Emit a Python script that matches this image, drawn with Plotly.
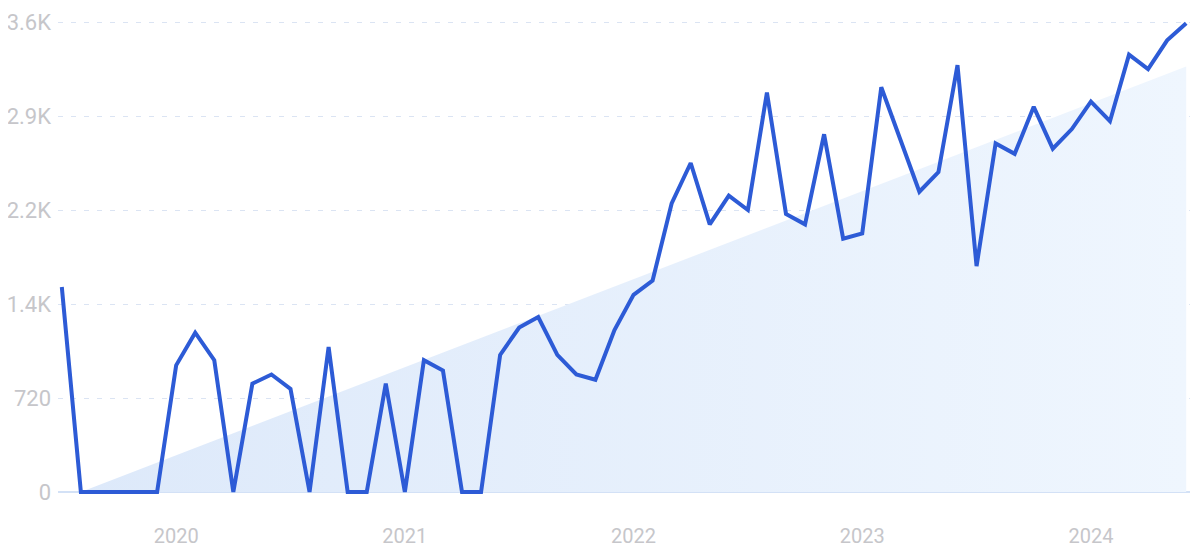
import pandas as pd
import plotly.graph_objects as go

# Monthly categories (Jul 2019 .. Jun 2024)
months = [d.strftime("%Y-%m") for d in pd.date_range("2019-07-01", periods=60, freq="MS")]

values = [1570, 0, 0, 0, 0, 0, 970, 1220, 1010, 0,
          830, 900, 790, 0, 1110, 0, 0, 830, 0, 1010,
          930, 0, 0, 1050, 1260, 1340, 1050, 900, 860, 1240,
          1510, 1620, 2210, 2520, 2050, 2270, 2160, 3060, 2130, 2050,
          2740, 1940, 1980, 3100, 2700, 2300, 2450, 3270, 1730, 2670,
          2590, 2950, 2630, 2780, 2990, 2840, 3350, 3240, 3460, 3590]

trend_x = ["2019-08", "2024-06"]
trend_y = [0, 3260]

year_ticks = ["2020-01", "2021-01", "2022-01", "2023-01", "2024-01"]
year_labels = ["2020", "2021", "2022", "2023", "2024"]

y_ticks = [0, 720, 1440, 2160, 2880, 3600]
y_labels = ["0", "720", "1.4K", "2.2K", "2.9K", "3.6K"]

fig = go.Figure()

fig.add_trace(go.Scatter(
    x=trend_x, y=trend_y, mode="lines",
    line=dict(width=0, color="rgba(0,0,0,0)"),
    fill="tozeroy",
    fillgradient=dict(type="horizontal",
                      colorscale=[[0, "rgb(221,233,250)"], [1, "rgb(239,246,254)"]]),
    hoverinfo="skip", showlegend=False,
))

fig.add_trace(go.Scatter(
    x=months, y=values, mode="lines",
    line=dict(color="#2d5bd6", width=4),
    showlegend=False,
))

# page body has an 8px default margin: size the figure to fit inside it
fig.update_layout(
    width=1184, height=540,
    margin=dict(l=50.2, r=2.2, t=8, b=50, autoexpand=False),
    paper_bgcolor="white", plot_bgcolor="white",
    font=dict(family="Roboto", size=20, color="#c6c6ca"),
)

fig.update_xaxes(
    type="category", categoryorder="array", categoryarray=months,
    range=[-0.2, 59.2], automargin=False,
    tickmode="array", tickvals=year_ticks, ticktext=year_labels,
    showgrid=False, zeroline=False, showline=False, ticks="",
    ticklabelstandoff=24,
    tickfont=dict(family="Roboto", size=20, color="#c6c6ca"),
)

fig.update_yaxes(
    range=[-46, 3646], automargin=False,
    tickmode="array", tickvals=y_ticks, ticktext=y_labels,
    showgrid=True, gridcolor="#dbe4f3", gridwidth=1, griddash="5px,8px",
    zeroline=True, zerolinecolor="#d3e1f6", zerolinewidth=1.5,
    showline=False, ticks="",
    ticklabelstandoff=6,
    tickfont=dict(family="Roboto", size=22, color="#c6c6ca"),
)

fig.write_html("out.html")
